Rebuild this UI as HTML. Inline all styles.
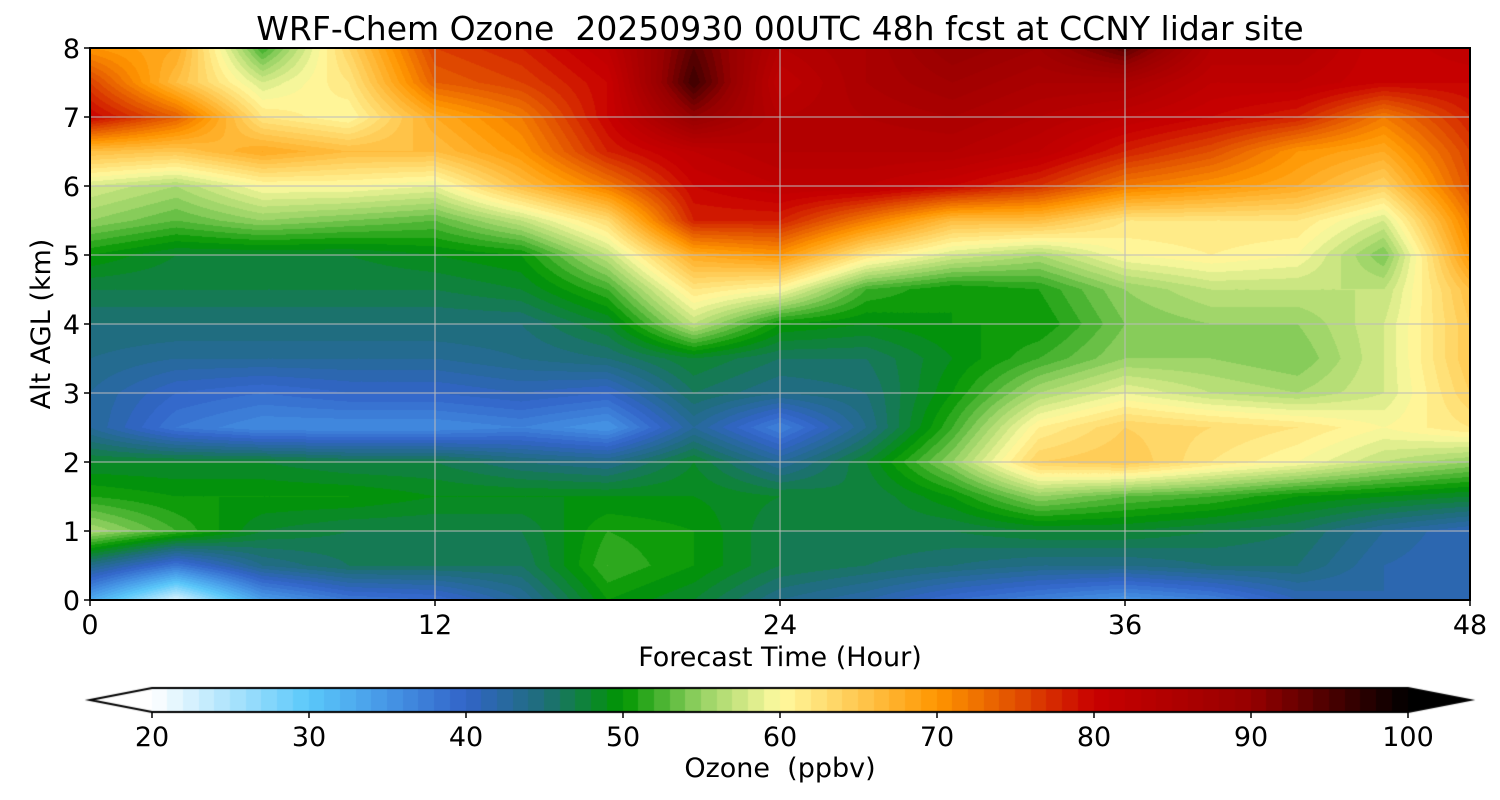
<!DOCTYPE html>
<html><head><meta charset="utf-8"><style>
body{margin:0;background:#fff;width:1500px;height:800px;overflow:hidden;font-family:"DejaVu Sans","Liberation Sans",sans-serif}
#wrap{position:relative;width:1500px;height:800px}
canvas{position:absolute;left:0;top:0}
svg{position:absolute;left:0;top:0}
svg text{white-space:pre}
</style></head><body><div id="wrap">
<canvas id="cv" width="1500" height="800"></canvas>
<svg id="sv" width="1500" height="800" font-family="DejaVu Sans, Liberation Sans, sans-serif"></svg>
</div>
<script>
const times=[0,3,6,9,12,15,18,21,24,27,30,33,36,39,42,45,48];
const heights=[0,0.5,1,1.5,2,2.5,3,3.5,4,4.5,5,5.5,6,6.5,7,7.5,8];
const ozone=[
[33,22,34,38,39,43,50,48,44,42,39,37,35,37,41,42,42],
[44,38,44,46,46,46,52,50,47,46,45,44,44,45,45,42,41],
[56,52,48,47,47,47,51,50,47,47,47,48,48,47,46,43,41],
[51,50,50,50,49,49,49,49,48,47,50,55,53,52,50,49,48],
[48,48,48,47,47,45,44,48,43,48,55,64,65,62,60,57,55],
[43,38,36,36,36,37,35,43,37,44,52,61,64,63,62,60,62],
[43,40,39,40,40,41,40,46,44,45,50,56,59,57,56,58,64],
[44,43,43,43,43,44,45,48,46,46,49,52,55,55,54,58,65],
[45,45,45,45,45,45,48,57,50,49,50,50,54,55,55,58,65],
[47,47,47,47,47,48,52,62,60,52,50,51,55,57,57,57,66],
[50,48,48,48,49,50,57,68,70,62,58,56,60,61,60,54,70],
[55,53,55,54,53,57,63,78,78,72,66,66,62,62,62,58,72],
[58,56,60,60,59,66,72,80,82,82,80,77,72,70,68,64,75],
[66,65,68,66,66,70,78,82,84,84,84,82,78,75,70,68,76],
[80,74,62,60,68,72,80,90,84,85,86,84,82,80,78,72,78],
[76,66,58,62,74,76,80,96,82,86,88,86,86,82,82,80,80],
[70,68,52,64,76,78,82,94,84,86,90,88,94,84,84,80,82]];
const cbTicks=[20,30,40,50,60,70,80,90,100];
const xTicks=[0,12,24,36,48];
const yTicks=[0,1,2,3,4,5,6,7,8];
const stops=[[20,[255,255,255]],[30,[90,200,250]],[35,[70,150,230]],[40,[50,100,200]],[45,[30,110,120]],[50,[0,150,0]],[55,[150,210,100]],[60,[255,250,160]],[65,[255,200,80]],[70,[255,150,0]],[75,[225,80,0]],[80,[200,0,0]],[90,[150,0,0]],[100,[0,0,0]]];
function cmap(v){v=Math.max(20,Math.min(100,v));for(let i=0;i<stops.length-1;i++){const[a,ca]=stops[i],[b,cb]=stops[i+1];if(v<=b){const f=(v-a)/(b-a);return ca.map((c,k)=>Math.round(c+(cb[k]-c)*f));}}return stops[stops.length-1][1];}
const X0=90,X1=1470,Y0=600,Y1=48;
const xs=t=>X0+(t-times[0])/(times[times.length-1]-times[0])*(X1-X0);
const ys=h=>Y0-(h-heights[0])/(heights[heights.length-1]-heights[0])*(Y0-Y1);
const cv=document.getElementById('cv'),ctx=cv.getContext('2d');
const W=X1-X0,H=Y0-Y1,img=ctx.createImageData(W,H);
function interp(t,h){let i=0;while(i<times.length-2&&t>times[i+1])i++;let j=0;while(j<heights.length-2&&h>heights[j+1])j++;const ft=(t-times[i])/(times[i+1]-times[i]),fh=(h-heights[j])/(heights[j+1]-heights[j]);return ozone[j][i]*(1-ft)*(1-fh)+ozone[j][i+1]*ft*(1-fh)+ozone[j+1][i]*(1-ft)*fh+ozone[j+1][i+1]*ft*fh;}
for(let py=0;py<H;py++){const h=heights[heights.length-1]*(1-(py+0.5)/H);for(let px=0;px<W;px++){const t=times[times.length-1]*(px+0.5)/W;let v=Math.floor(interp(t,h))+0.5;const c=cmap(v);const o=(py*W+px)*4;img.data[o]=c[0];img.data[o+1]=c[1];img.data[o+2]=c[2];img.data[o+3]=255;}}
ctx.putImageData(img,X0,Y1);
const CB0=152,CB1=1408,CY=688,CH=24;const cx=v=>CB0+(v-20)/80*(CB1-CB0);
for(let v=20;v<100;v++){const c=cmap(v+0.5);ctx.fillStyle=`rgb(${c})`;ctx.fillRect(Math.floor(cx(v)),CY,Math.ceil(cx(v+1)-cx(v))+1,CH);}
ctx.fillStyle='#fff';ctx.beginPath();ctx.moveTo(CB0,CY);ctx.lineTo(90,CY+CH/2);ctx.lineTo(CB0,CY+CH);ctx.fill();
ctx.fillStyle='#000';ctx.beginPath();ctx.moveTo(CB1,CY);ctx.lineTo(1470,CY+CH/2);ctx.lineTo(CB1,CY+CH);ctx.fill();
ctx.strokeStyle='#000';ctx.lineWidth=2;ctx.beginPath();ctx.moveTo(CB0,CY);ctx.lineTo(CB1,CY);ctx.lineTo(1470,CY+CH/2);ctx.lineTo(CB1,CY+CH);ctx.lineTo(CB0,CY+CH);ctx.lineTo(90,CY+CH/2);ctx.closePath();ctx.stroke();
const sv=document.getElementById('sv');const NS='http://www.w3.org/2000/svg';
function el(tag,a,txt){const e=document.createElementNS(NS,tag);for(const k in a)e.setAttribute(k,a[k]);if(txt!==undefined)e.textContent=txt;sv.appendChild(e);return e;}
for(const t of xTicks){const g=el('line',{x1:xs(t),x2:xs(t),y1:Y1,y2:Y0,stroke:'#bbb','stroke-width':1});


el('line',{x1:xs(t),x2:xs(t),y1:Y0,y2:Y0+6,stroke:'#000','stroke-width':1.5});
const l=el('text',{x:xs(t),y:Y0+34,'font-size':27,'text-anchor':'middle'},t);

}
for(const h of yTicks){const g=el('line',{x1:X0,x2:X1,y1:ys(h),y2:ys(h),stroke:'#bbb','stroke-width':1});


el('line',{x1:X0-6,x2:X0,y1:ys(h),y2:ys(h),stroke:'#000','stroke-width':1.5});
const l=el('text',{x:X0-10,y:ys(h)+10,'font-size':27,'text-anchor':'end'},h);

}
el('rect',{x:X0,y:Y1,width:W,height:H,fill:'none',stroke:'#000','stroke-width':2});
for(const v of cbTicks){el('line',{x1:cx(v),x2:cx(v),y1:CY+CH,y2:CY+CH+6,stroke:'#000','stroke-width':1.5});
const l=el('text',{x:cx(v),y:CY+CH+34,'font-size':27,'text-anchor':'middle'},v);

}
const ti=el('text',{x:780,y:40,'font-size':33,'text-anchor':'middle'},'WRF-Chem Ozone  20250930 00UTC 48h fcst at CCNY lidar site');


const xt=el('text',{x:780,y:666,'font-size':27,'text-anchor':'middle'},'Forecast Time (Hour)');


const yt=el('text',{x:0,y:0,'font-size':27,'text-anchor':'middle',transform:'translate(50,324) rotate(-90)'},'Alt AGL (km)');


const ct=el('text',{x:780,y:777,'font-size':27,'text-anchor':'middle'},'Ozone  (ppbv)');


</script></body></html>
